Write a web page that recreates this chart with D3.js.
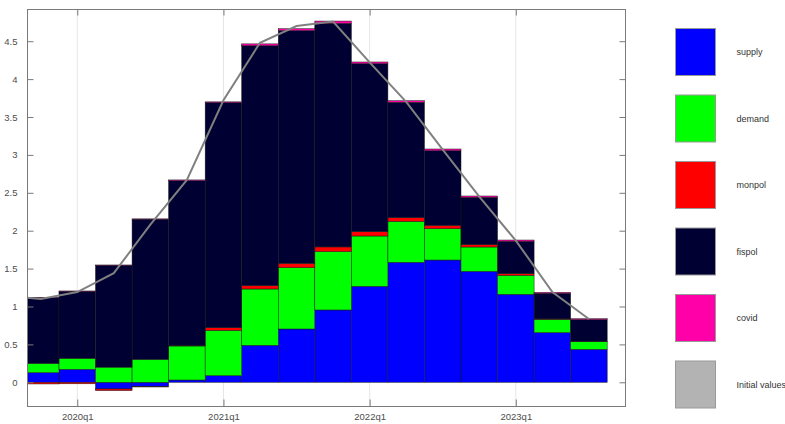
<!DOCTYPE html>
<html>
<head>
<meta charset="utf-8">
<script src="https://cdn.jsdelivr.net/npm/d3@7"></script>
<style>
  html, body { margin: 0; padding: 0; background: #fff; }
  svg { display: block; font-family: "Liberation Sans", Arial, sans-serif; }
</style>
</head>
<body>
<svg id="chart" width="785" height="424"></svg>
<script>
// Historical decomposition by shock, quarterly, 2019q4 – 2023q3
const quarters = ["2019q4","2020q1","2020q2","2020q3","2020q4","2021q1","2021q2","2021q3",
                  "2021q4","2022q1","2022q2","2022q3","2022q4","2023q1","2023q2","2023q3"];
const supply = [0.127, 0.171, -0.088, -0.057, 0.030, 0.087, 0.488, 0.703,
                0.954, 1.266, 1.583, 1.613, 1.464, 1.161, 0.655, 0.435];
const demand = [0.123, 0.146, 0.200, 0.303, 0.449, 0.599, 0.743, 0.809,
                0.771, 0.664, 0.541, 0.414, 0.321, 0.250, 0.176, 0.101];
const monpol = [-0.022, -0.020, -0.022, -0.005, 0.006, 0.034, 0.044, 0.058,
                0.061, 0.057, 0.048, 0.044, 0.031, 0.022, 0.005, 0.003];
const fispol = [0.866, 0.884, 1.344, 1.849, 2.175, 2.968, 3.165, 3.070,
                2.950, 2.216, 1.522, 0.984, 0.624, 0.427, 0.338, 0.287];
const covid  = [0.004, 0.004, 0.004, 0.004, 0.010, 0.012, 0.025, 0.025,
                0.030, 0.023, 0.021, 0.023, 0.018, 0.017, 0.013, 0.013];

// Initial values path (starts one quarter earlier)
const initialQuarters = ["2019q3","2019q4","2020q1","2020q2","2020q3","2020q4","2021q1","2021q2",
                         "2021q3","2021q4","2022q1","2022q2","2022q3","2022q4","2023q1","2023q2","2023q3"];
const initialValues = [1.145, 1.100, 1.190, 1.440, 2.080, 2.670, 3.720, 4.480,
                       4.700, 4.760, 4.220, 3.700, 3.070, 2.450, 1.870, 1.190, 0.835];

const seriesNames = ["supply", "demand", "monpol", "fispol", "covid"];
const seriesColors = ["#0000ff", "#00ff00", "#ff0000", "#000033", "#ff00a8"];
const legendLabels = ["supply", "demand", "monpol", "fispol", "covid", "Initial values"];
const legendColors = ["#0000ff", "#00ff00", "#ff0000", "#000033", "#ff00a8", "#b3b3b3"];

const xTickLabels = ["2020q1", "2021q1", "2022q1", "2023q1"];
const yTickValues = [0, 0.5, 1, 1.5, 2, 2.5, 3, 3.5, 4, 4.5];

// quarter label -> position index (2019q4 = 0)
const qIndex = s => (+s.slice(0, 4) - 2019) * 4 + (+s.slice(5)) - 4;

const svg = d3.select("#chart");
const plot = { left: 27, right: 626, top: 9, bottom: 407 };

const x = d3.scaleLinear().domain([-0.375, 16.015]).range([plot.left, plot.right]);
const y = d3.scaleLinear().domain([-0.326, 4.925]).range([plot.bottom, plot.top]);

svg.append("defs").append("clipPath").attr("id", "plotClip")
  .append("rect")
  .attr("x", plot.left).attr("y", plot.top)
  .attr("width", plot.right - plot.left).attr("height", plot.bottom - plot.top);

// vertical grid at labelled quarters
svg.append("g").selectAll("line").data(xTickLabels).join("line")
  .attr("x1", d => x(qIndex(d))).attr("x2", d => x(qIndex(d)))
  .attr("y1", plot.top).attr("y2", plot.bottom)
  .attr("stroke", "#e6e6e6").attr("stroke-width", 1);

// stacked bars (positive and negative parts stacked separately)
const rows = quarters.map((q, i) => ({
  q, supply: supply[i], demand: demand[i], monpol: monpol[i], fispol: fispol[i], covid: covid[i]
}));
const stacked = d3.stack().keys(seriesNames).offset(d3.stackOffsetDiverging)(rows);

const bw = x(1) - x(0);
const barLayer = svg.append("g").attr("clip-path", "url(#plotClip)");
stacked.forEach((layer, k) => {
  barLayer.append("g")
    .attr("fill", seriesColors[k])
    .selectAll("rect").data(layer).join("rect")
    .attr("x", d => x(qIndex(d.data.q)) - bw / 2)
    .attr("width", bw)
    .attr("y", d => y(Math.max(d[0], d[1])))
    .attr("height", d => Math.abs(y(d[0]) - y(d[1])))
    .attr("stroke", "#1a1a1a").attr("stroke-width", 0.5);
});

// initial values line
const line = d3.line()
  .x((d, i) => x(qIndex(initialQuarters[i])))
  .y(d => y(d));
svg.append("path")
  .attr("clip-path", "url(#plotClip)")
  .datum(initialValues)
  .attr("d", line)
  .attr("fill", "none")
  .attr("stroke", "#808080")
  .attr("stroke-width", 2);

// axes box
const axisColor = "#7a7a7a";
svg.append("rect")
  .attr("x", plot.left + 0.5).attr("y", plot.top + 0.5)
  .attr("width", plot.right - plot.left - 1).attr("height", plot.bottom - plot.top - 1)
  .attr("fill", "none").attr("stroke", axisColor).attr("stroke-width", 1);

const xTickVals = xTickLabels.map(qIndex);
const yAxisL = d3.axisLeft(y).tickValues(yTickValues).tickSizeInner(-6).tickSizeOuter(0)
  .tickPadding(10).tickFormat(d3.format("~g"));
const yAxisR = d3.axisRight(y).tickValues(yTickValues).tickSizeInner(-6).tickSizeOuter(0)
  .tickFormat("");
const xAxisB = d3.axisBottom(x).tickValues(xTickVals).tickSizeInner(-7).tickSizeOuter(0)
  .tickPadding(7).tickFormat((d, i) => xTickLabels[i]);
const xAxisT = d3.axisTop(x).tickValues(xTickVals).tickSizeInner(-6).tickSizeOuter(0)
  .tickFormat("");

function styleAxis(g) {
  g.select(".domain").remove();
  g.selectAll(".tick line").attr("stroke", axisColor);
  g.selectAll(".tick text").attr("fill", "#4d4d4d").attr("font-size", 9.5)
    .attr("font-family", "'Liberation Sans', Arial, sans-serif");
}
svg.append("g").attr("transform", `translate(${plot.left + 0.5},0)`).call(yAxisL).call(styleAxis);
svg.append("g").attr("transform", `translate(${plot.right - 0.5},0)`).call(yAxisR).call(styleAxis);
svg.append("g").attr("transform", `translate(0,${plot.bottom - 0.5})`).call(xAxisB).call(styleAxis);
svg.append("g").attr("transform", `translate(0,${plot.top + 0.5})`).call(xAxisT).call(styleAxis);

// legend
const legend = svg.append("g").attr("transform", "translate(675.5,28.5)");
const item = legend.selectAll("g").data(legendLabels).join("g")
  .attr("transform", (d, i) => `translate(0,${i * 66.5})`);
item.append("rect")
  .attr("width", 40).attr("height", 47)
  .attr("fill", (d, i) => legendColors[i])
  .attr("stroke", "#999").attr("stroke-width", 1);
item.append("text")
  .attr("x", 61).attr("y", 23.5).attr("dy", "0.35em")
  .attr("font-size", 9).attr("fill", "#333")
  .text(d => d);
</script>
</body>
</html>
